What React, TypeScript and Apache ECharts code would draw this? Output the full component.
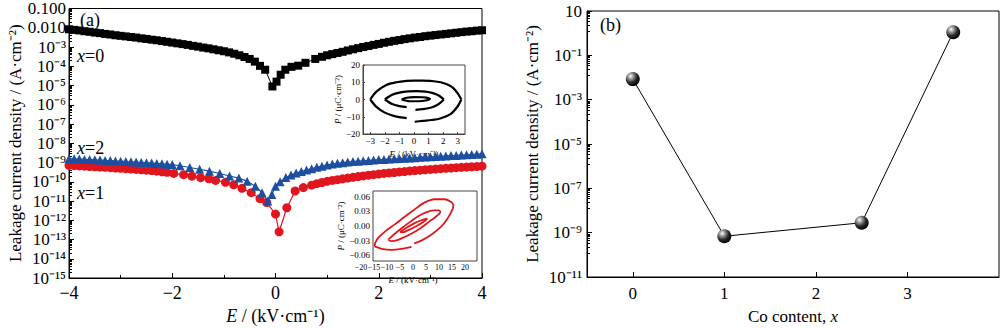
import React, { useEffect, useRef } from "react";
import * as echarts from "echarts";

const FONT = "'Liberation Serif', 'Times New Roman', Times, serif";

// ---------- Panel (a): E (kV·cm⁻¹) vs log10 J (A·cm⁻²) ----------
const curveX0: [number, number][] = [
  [-4.0, -2.08], [-3.9, -2.11], [-3.8, -2.14], [-3.7, -2.18], [-3.6, -2.21], [-3.5, -2.25],
  [-3.4, -2.28], [-3.3, -2.32], [-3.2, -2.35], [-3.1, -2.39], [-3.0, -2.42], [-2.9, -2.45],
  [-2.8, -2.48], [-2.7, -2.51], [-2.6, -2.55], [-2.5, -2.58], [-2.4, -2.62], [-2.3, -2.65],
  [-2.2, -2.69], [-2.1, -2.73], [-2.0, -2.77], [-1.9, -2.81], [-1.8, -2.85], [-1.7, -2.89],
  [-1.6, -2.94], [-1.5, -2.98], [-1.4, -3.03], [-1.3, -3.07], [-1.2, -3.12], [-1.1, -3.17],
  [-1.0, -3.22], [-0.9, -3.28], [-0.8, -3.35], [-0.7, -3.43], [-0.6, -3.52], [-0.5, -3.62],
  [-0.4, -3.76], [-0.3, -3.98], [-0.2, -4.18], [-0.06, -5.05], [0.02, -4.8], [0.1, -4.44],
  [0.19, -4.18], [0.31, -4.03], [0.44, -3.97], [0.58, -3.82], [0.77, -3.62], [0.9, -3.51],
  [1.0, -3.43], [1.1, -3.37], [1.2, -3.31], [1.3, -3.25], [1.4, -3.18], [1.5, -3.12],
  [1.6, -3.06], [1.7, -3.0], [1.8, -2.95], [1.9, -2.89], [2.0, -2.84], [2.1, -2.78],
  [2.2, -2.73], [2.3, -2.68], [2.4, -2.64], [2.5, -2.59], [2.6, -2.55], [2.7, -2.51],
  [2.8, -2.48], [2.9, -2.44], [3.0, -2.41], [3.1, -2.38], [3.2, -2.35], [3.3, -2.32],
  [3.4, -2.29], [3.5, -2.26], [3.6, -2.23], [3.7, -2.2], [3.8, -2.18], [3.9, -2.15], [4.0, -2.13],
];

const curveX1: [number, number][] = [
  [-4.0, -9.15], [-3.9, -9.16], [-3.8, -9.18], [-3.7, -9.19], [-3.6, -9.21], [-3.5, -9.22],
  [-3.4, -9.24], [-3.3, -9.25], [-3.2, -9.27], [-3.1, -9.29], [-3.0, -9.3], [-2.9, -9.32],
  [-2.8, -9.34], [-2.7, -9.36], [-2.6, -9.38], [-2.5, -9.4], [-2.4, -9.42], [-2.3, -9.45],
  [-2.2, -9.48], [-2.1, -9.51], [-1.97, -9.57], [-1.78, -9.63], [-1.62, -9.71], [-1.45, -9.79],
  [-1.29, -9.85], [-1.16, -9.93], [-0.97, -10.03], [-0.81, -10.16], [-0.65, -10.34],
  [-0.47, -10.57], [-0.3, -10.88], [-0.17, -11.08], [0.0, -11.68], [0.07, -12.6],
  [0.22, -11.35], [0.38, -10.48], [0.54, -10.3], [0.7, -10.18], [0.8, -10.1], [0.9, -10.04],
  [1.0, -9.98], [1.1, -9.93], [1.2, -9.89], [1.3, -9.85], [1.4, -9.81], [1.5, -9.77],
  [1.6, -9.73], [1.7, -9.7], [1.8, -9.66], [1.9, -9.63], [2.0, -9.6], [2.1, -9.57],
  [2.2, -9.54], [2.3, -9.52], [2.4, -9.49], [2.5, -9.47], [2.6, -9.44], [2.7, -9.42],
  [2.8, -9.4], [2.9, -9.38], [3.0, -9.36], [3.1, -9.34], [3.2, -9.32], [3.3, -9.3],
  [3.4, -9.29], [3.5, -9.27], [3.6, -9.25], [3.7, -9.24], [3.8, -9.22], [3.9, -9.21], [4.0, -9.19],
];

const curveX2: [number, number][] = [
  [-4.0, -8.8], [-3.9, -8.81], [-3.8, -8.82], [-3.7, -8.84], [-3.6, -8.85], [-3.5, -8.86],
  [-3.4, -8.87], [-3.3, -8.89], [-3.2, -8.9], [-3.1, -8.92], [-3.0, -8.93], [-2.9, -8.95],
  [-2.8, -8.96], [-2.7, -8.98], [-2.6, -9.0], [-2.5, -9.01], [-2.4, -9.03], [-2.3, -9.05],
  [-2.2, -9.07], [-2.1, -9.09], [-2.0, -9.11], [-1.85, -9.17], [-1.66, -9.26], [-1.47, -9.35],
  [-1.28, -9.45], [-1.08, -9.57], [-0.89, -9.7], [-0.71, -9.81], [-0.55, -9.97], [-0.39, -10.23],
  [-0.26, -10.57], [-0.15, -11.0], [-0.07, -10.66], [0.0, -10.23], [0.09, -10.0], [0.2, -9.78],
  [0.3, -9.65], [0.4, -9.55], [0.5, -9.47], [0.6, -9.39], [0.7, -9.32], [0.8, -9.25],
  [0.9, -9.19], [1.0, -9.13], [1.1, -9.08], [1.2, -9.04], [1.3, -9.01], [1.4, -8.98],
  [1.5, -8.95], [1.6, -8.93], [1.7, -8.91], [1.8, -8.89], [1.9, -8.87], [2.0, -8.85],
  [2.1, -8.84], [2.2, -8.82], [2.3, -8.81], [2.4, -8.79], [2.5, -8.78], [2.6, -8.76],
  [2.7, -8.75], [2.8, -8.73], [2.9, -8.72], [3.0, -8.7], [3.1, -8.69], [3.2, -8.67],
  [3.3, -8.66], [3.4, -8.64], [3.5, -8.63], [3.6, -8.61], [3.7, -8.6], [3.8, -8.58],
  [3.9, -8.57], [4.0, -8.55],
];

// ---------- Inset 1 (black P–E loops): E (kV·cm⁻¹), P (μC·cm⁻²) ----------
const loopA_outerUpper: [number, number][] = [
  [-3.0, 0], [-2.6, 4.4], [-1.9, 8.4], [-1.2, 10.0], [-0.5, 10.8], [0, 11], [0.6, 11],
  [1.1, 10.8], [1.6, 10.3], [2.0, 9.6], [2.4, 8.3], [2.7, 6.6], [3.0, 3.5], [3.25, 0],
];
const loopA_outerLowerRight: [number, number][] = [
  [3.25, 0], [3.0, -3.9], [2.5, -8.5], [1.8, -11.0], [1.2, -11.9], [0.6, -12.4], [0.05, -12.9],
];
const loopA_outerLowerLeft: [number, number][] = [
  [-3.0, 0], [-2.6, -4.1], [-2.0, -7.6], [-1.4, -9.5], [-0.9, -10.4], [-0.5, -10.8],
];
const loopA_midUpper: [number, number][] = [
  [-2.0, 0], [-1.5, 2.7], [-1.0, 4.0], [-0.4, 4.7], [0.2, 4.9], [0.8, 4.6], [1.3, 3.7], [1.7, 2.3], [2.05, 0],
];
const loopA_midLowerRight: [number, number][] = [
  [2.05, 0], [1.7, -2.6], [1.2, -4.6], [0.6, -5.6], [0.1, -6.0],
];
const loopA_midLowerLeft: [number, number][] = [
  [-2.0, 0], [-1.5, -2.6], [-1.0, -3.8], [-0.5, -4.4],
];
const loopA_inner: [number, number][] = [
  [-0.85, 0], [-0.5, 1.0], [0, 1.4], [0.6, 1.3], [1.1, 0.4], [0.8, -0.6], [0.3, -1.0], [-0.3, -1.0], [-0.85, 0],
];

// ---------- Inset 2 (red P–E loops): E (kV·cm⁻¹), P (μC·cm⁻²) ----------
const loopB_outerUpper: [number, number][] = [
  [-14.8, -0.042], [-14.5, -0.034], [-13.3, -0.024], [-10.8, -0.0115], [-7.0, 0.0034], [-3.2, 0.019],
  [0.6, 0.034], [4.4, 0.048], [8.3, 0.055], [12.1, 0.055], [14.8, 0.049], [15.6, 0.043],
];
const loopB_outerLowerRight: [number, number][] = [
  [15.6, 0.043], [15.2, 0.034], [13.3, 0.0156], [10.8, -0.0014], [7.0, -0.018], [3.2, -0.03], [0.4, -0.036],
];
const loopB_outerLowerLeft: [number, number][] = [
  [-14.8, -0.042], [-12.0, -0.047], [-8.3, -0.049], [-4.4, -0.047], [-0.6, -0.043],
];
const loopB_mid: [number, number][] = [
  [-9.5, -0.028], [-7, -0.016], [-4, -0.003], [-1, 0.009], [2, 0.02], [5, 0.028], [8, 0.032],
  [10, 0.032], [10.5, 0.029], [9, 0.02], [6, 0.008], [3, -0.004], [0, -0.014], [-3, -0.022],
  [-6, -0.029], [-8.5, -0.031], [-9.5, -0.028],
];
const loopB_inner: [number, number][] = [
  [-5, -0.012], [-2, -0.002], [1, 0.007], [4, 0.013], [5.5, 0.015], [4, 0.008], [1, -0.001],
  [-2, -0.009], [-4, -0.013], [-5, -0.012],
];

// ---------- Panel (b) ----------
const coContent = [0, 1, 2.5, 3.5];
const leakage = [8.5e-3, 6.9e-10, 2.8e-9, 1.1];

// ---------- Tick labels ----------
const insetATicksX = [-3, -2, -1, 0, 1, 2, 3];
const insetBTicksX = [-20, -15, -10, -5, 0, 5, 10, 15, 20];
const insetBTicksY = [-0.06, -0.03, 0, 0.03, 0.06];
const panelBTicksX = [0, 1, 2, 3];

const SUP: Record<string, string> = {
  "-": "⁻", "0": "⁰", "1": "¹", "2": "²", "3": "³", "4": "⁴",
  "5": "⁵", "6": "⁶", "7": "⁷", "8": "⁸", "9": "⁹",
};
const pow10 = (e: number) => "10" + String(e).split("").map((c) => SUP[c]).join("");
const minus = (v: number) => (v < 0 ? "−" + String(Math.abs(v)) : String(v));

const RED = "#e0161e";
const BLUE = "#1d4fa0";

export default function App() {
  const ref = useRef<HTMLDivElement>(null);

  useEffect(() => {
    if (!ref.current) return;
    const chart = echarts.init(ref.current, undefined, { renderer: "svg" });

    const axisLine = (color: string) => ({ show: true, onZero: false, lineStyle: { color, width: 1 } });
    const toLog = (arr: [number, number][]) => arr.map(([e, l]) => [e, Math.pow(10, l)]);

    const loopSeries = (data: [number, number][], idx: number, color: string, width: number) => ({
      type: "line",
      xAxisIndex: idx,
      yAxisIndex: idx,
      data,
      showSymbol: false,
      symbol: "none",
      smooth: 0.3,
      lineStyle: { color, width },
      silent: true,
      z: 5,
    });

    const sphere = {
      type: "radial",
      x: 0.35,
      y: 0.3,
      r: 0.75,
      colorStops: [
        { offset: 0, color: "#ffffff" },
        { offset: 0.2, color: "#b0b0b0" },
        { offset: 0.6, color: "#2a2a2a" },
        { offset: 1, color: "#000000" },
      ],
    };

    const option: any = {
      animation: false,
      textStyle: { fontFamily: FONT, color: "#000" },
      grid: [
        { left: 69, top: 8, width: 413, height: 275, show: true, borderColor: "#000", borderWidth: 1, backgroundColor: "transparent" },
        { left: 587, top: 11, width: 412, height: 274, show: true, borderColor: "#000", borderWidth: 1, backgroundColor: "transparent" },
        { left: 363, top: 65, width: 102, height: 69, show: true, borderColor: "#444", borderWidth: 1, backgroundColor: "#fff" },
        { left: 361, top: 191, width: 104, height: 70, show: false },
      ],
      xAxis: [
        {
          gridIndex: 0, type: "value", min: -4, max: 4, interval: 2,
          axisLine: axisLine("#000"),
          axisTick: { inside: true, length: 5, lineStyle: { color: "#000" } },
          minorTick: { show: true, splitNumber: 2, length: 3, lineStyle: { color: "#000" } },
          splitLine: { show: false },
          axisLabel: { fontFamily: FONT, fontSize: 18, color: "#000", margin: 6, formatter: (v: number) => minus(v) },
          name: "{i|E} / (kV·cm⁻¹)", nameLocation: "middle", nameGap: 29,
          nameTextStyle: { fontFamily: FONT, fontSize: 18, color: "#000", rich: { i: { fontFamily: FONT, fontSize: 18, fontStyle: "italic" } } },
        },
        {
          gridIndex: 1, type: "value", min: -0.5, max: 4,
          axisLine: axisLine("#000"),
          axisTick: { inside: true, length: 5, lineStyle: { color: "#000" }, customValues: panelBTicksX },
          splitLine: { show: false },
          axisLabel: { fontFamily: FONT, fontSize: 17, color: "#000", margin: 8, customValues: panelBTicksX },
          name: "Co content, {i|x}", nameLocation: "middle", nameGap: 31,
          nameTextStyle: { fontFamily: FONT, fontSize: 17, color: "#000", rich: { i: { fontFamily: FONT, fontSize: 17, fontStyle: "italic" } } },
        },
        {
          gridIndex: 2, type: "value", min: -3.5, max: 3.5,
          axisLine: axisLine("#444"),
          axisTick: { inside: true, length: 2, lineStyle: { color: "#444" }, customValues: insetATicksX },
          splitLine: { show: false },
          axisLabel: { fontFamily: FONT, fontSize: 9, color: "#000", margin: 2, customValues: insetATicksX, formatter: (v: number) => minus(v) },
          name: "{i|E} / (kV·cm⁻¹)", nameLocation: "middle", nameGap: 15,
          nameTextStyle: { fontFamily: FONT, fontSize: 9, color: "#000", rich: { i: { fontFamily: FONT, fontSize: 9, fontStyle: "italic" } } },
        },
        {
          gridIndex: 3, type: "value", min: -20, max: 20,
          axisLine: { show: false, onZero: false },
          axisTick: { show: false },
          splitLine: { show: false },
          axisLabel: {
            fontFamily: FONT, fontSize: 8, color: "#000", margin: 2, customValues: insetBTicksX,
            showMinLabel: true, showMaxLabel: true, hideOverlap: false,
            formatter: (v: number) => minus(v),
          },
          name: "{i|E} / (kV·cm⁻¹)", nameLocation: "middle", nameGap: 14,
          nameTextStyle: { fontFamily: FONT, fontSize: 9, color: "#000", rich: { i: { fontFamily: FONT, fontSize: 9, fontStyle: "italic" } } },
        },
      ],
      yAxis: [
        {
          gridIndex: 0, type: "log", min: 1e-15, max: 0.1, interval: 1, logBase: 10,
          axisLine: axisLine("#000"),
          axisTick: { inside: true, length: 5, lineStyle: { color: "#000" } },
          minorTick: { show: true, splitNumber: 9, length: 3, lineStyle: { color: "#000" } },
          splitLine: { show: false },
          minorSplitLine: { show: false },
          axisLabel: {
            fontFamily: FONT, fontSize: 17, color: "#000", margin: 3,
            formatter: (v: number) => {
              const e = Math.round(Math.log10(v));
              if (e === -1) return "0.100";
              if (e === -2) return "0.010";
              return pow10(e);
            },
          },
          name: "Leakage current density / (A·cm⁻²)", nameLocation: "middle", nameGap: 44, nameRotate: 90,
          nameTextStyle: { fontFamily: FONT, fontSize: 17, color: "#000" },
        },
        {
          gridIndex: 1, type: "log", min: 1e-11, max: 10, interval: 2, logBase: 10,
          axisLine: axisLine("#000"),
          axisTick: { inside: true, length: 5, lineStyle: { color: "#000" } },
          minorTick: { show: true, splitNumber: 9, length: 3, lineStyle: { color: "#000" } },
          splitLine: { show: false },
          minorSplitLine: { show: false },
          axisLabel: {
            fontFamily: FONT, fontSize: 17, color: "#000", margin: 5,
            formatter: (v: number) => {
              const e = Math.round(Math.log10(v));
              return e === 1 ? "10" : pow10(e);
            },
          },
          name: "Leakage current density / (A·cm⁻²)", nameLocation: "middle", nameGap: 46, nameRotate: 90,
          nameTextStyle: { fontFamily: FONT, fontSize: 17, color: "#000" },
        },
        {
          gridIndex: 2, type: "value", min: -20, max: 20, interval: 10,
          axisLine: axisLine("#444"),
          axisTick: { inside: true, length: 2, lineStyle: { color: "#444" } },
          splitLine: { show: false },
          axisLabel: { fontFamily: FONT, fontSize: 9, color: "#000", margin: 3, formatter: (v: number) => minus(v) },
          name: "{i|P} / (μC·cm⁻²)", nameLocation: "middle", nameGap: 18, nameRotate: 90,
          nameTextStyle: { fontFamily: FONT, fontSize: 9, color: "#000", rich: { i: { fontFamily: FONT, fontSize: 9, fontStyle: "italic" } } },
        },
        {
          gridIndex: 3, type: "value", min: -0.072, max: 0.072, offset: -12,
          axisLine: { show: false, onZero: false },
          axisTick: { show: false },
          splitLine: { show: false },
          axisLabel: {
            fontFamily: FONT, fontSize: 9, color: "#000", margin: 3, customValues: insetBTicksY,
            formatter: (v: number) => (v < 0 ? "−" + Math.abs(v).toFixed(2) : v.toFixed(2)),
          },
          name: "{i|P} / (μC·cm⁻²)", nameLocation: "middle", nameGap: 26, nameRotate: 90,
          nameTextStyle: { fontFamily: FONT, fontSize: 9, color: "#000", rich: { i: { fontFamily: FONT, fontSize: 9, fontStyle: "italic" } } },
        },
      ],
      series: [
        {
          type: "line", xAxisIndex: 0, yAxisIndex: 0, data: toLog(curveX0),
          symbol: "rect", symbolSize: 8, itemStyle: { color: "#000" }, lineStyle: { color: "#000", width: 1 }, z: 3,
        },
        {
          type: "line", xAxisIndex: 0, yAxisIndex: 0, data: toLog(curveX1),
          symbol: "circle", symbolSize: 9, itemStyle: { color: RED }, lineStyle: { color: RED, width: 1.2 }, z: 3,
        },
        {
          type: "line", xAxisIndex: 0, yAxisIndex: 0, data: toLog(curveX2),
          symbol: "triangle", symbolSize: 9, itemStyle: { color: BLUE }, lineStyle: { color: BLUE, width: 1.2 }, z: 4,
        },
        {
          type: "line", xAxisIndex: 1, yAxisIndex: 1,
          data: coContent.map((c, i) => [c, leakage[i]]),
          symbol: "circle", symbolSize: 14, itemStyle: { color: sphere }, lineStyle: { color: "#000", width: 1 },
        },
        loopSeries(loopA_outerUpper, 2, "#000", 2.2),
        loopSeries(loopA_outerLowerRight, 2, "#000", 2.2),
        loopSeries(loopA_outerLowerLeft, 2, "#000", 2.2),
        loopSeries(loopA_midUpper, 2, "#000", 2.2),
        loopSeries(loopA_midLowerRight, 2, "#000", 2.2),
        loopSeries(loopA_midLowerLeft, 2, "#000", 2.2),
        loopSeries(loopA_inner, 2, "#000", 2.2),
        loopSeries(loopB_outerUpper, 3, RED, 1.8),
        loopSeries(loopB_outerLowerRight, 3, RED, 1.8),
        loopSeries(loopB_outerLowerLeft, 3, RED, 1.8),
        loopSeries(loopB_mid, 3, RED, 1.8),
        loopSeries(loopB_inner, 3, RED, 1.8),
      ],
      graphic: [
        { type: "rect", shape: { x: 373, y: 191, width: 104, height: 70 }, style: { fill: "none", stroke: "#444", lineWidth: 1 }, z: 10 },
        { type: "text", x: 80, y: 20, style: { text: "(a)", fontFamily: FONT, fontSize: 18, fill: "#000", verticalAlign: "middle" } },
        { type: "text", x: 600, y: 25, style: { text: "(b)", fontFamily: FONT, fontSize: 18, fill: "#000", verticalAlign: "middle" } },
        {
          type: "text", x: 77, y: 56,
          style: { text: "{i|x}=0", fontFamily: FONT, fontSize: 18, fill: "#000", verticalAlign: "middle", rich: { i: { fontFamily: FONT, fontSize: 18, fontStyle: "italic" } } },
        },
        {
          type: "text", x: 77, y: 148,
          style: { text: "{i|x}=2", fontFamily: FONT, fontSize: 18, fill: "#000", verticalAlign: "middle", rich: { i: { fontFamily: FONT, fontSize: 18, fontStyle: "italic" } } },
        },
        {
          type: "text", x: 77, y: 193,
          style: { text: "{i|x}=1", fontFamily: FONT, fontSize: 18, fill: "#000", verticalAlign: "middle", rich: { i: { fontFamily: FONT, fontSize: 18, fontStyle: "italic" } } },
        },
      ],
    };

    chart.setOption(option);
    return () => chart.dispose();
  }, []);

  return (
    <div
      ref={ref}
      style={{ position: "fixed", left: 0, top: 0, width: 1000, height: 330, background: "#fff" }}
    />
  );
}
